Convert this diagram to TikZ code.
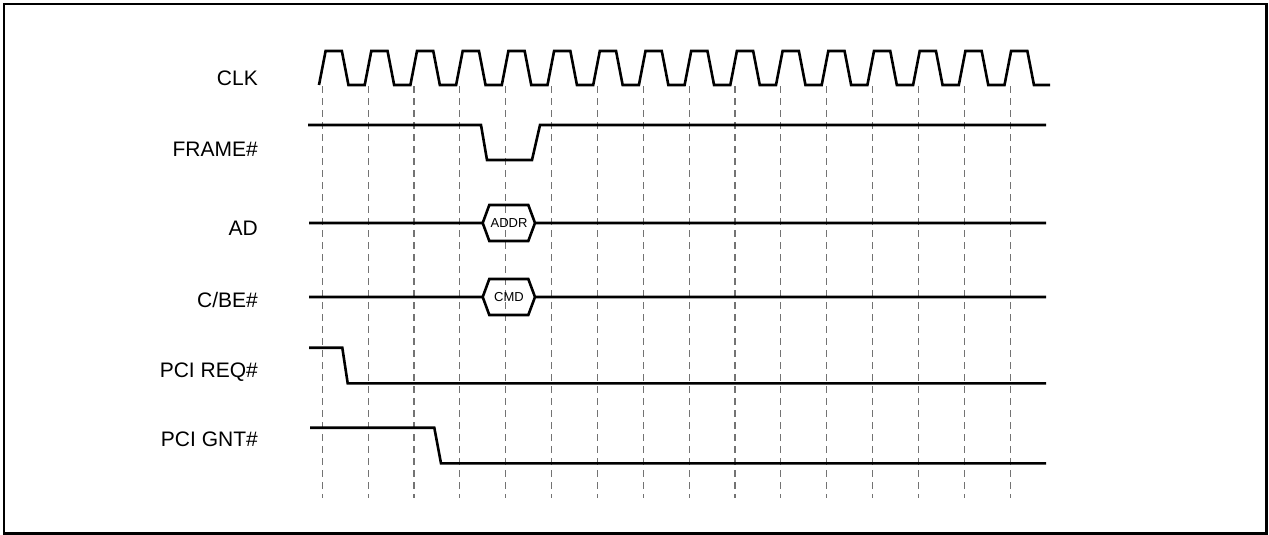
\documentclass[tikz,border=0pt]{standalone}
\usepackage{fontspec}
\setmainfont{Liberation Sans}
\begin{document}
\begin{tikzpicture}[x=1pt,y=-1pt,
  sig/.style={line width=2.6pt,line join=miter,line cap=butt},
  grid/.style={line width=1.1pt,draw=black!55,dash pattern=on 7pt off 5pt},
  lbl/.style={anchor=base east,inner sep=0pt,font=\fontsize{21}{21}\selectfont},
  bus/.style={font=\fontsize{13}{13}\selectfont,inner sep=0pt}]
\useasboundingbox (0,0) rectangle (1269,535);
\draw[line width=2.3pt] (4,4) rectangle (1266.5,533.5);
% grid lines
\foreach \i in {0,...,15}{
  \draw[grid] ({322.3+45.85*\i},86) -- ({322.3+45.85*\i},498);
}
% labels
\node[lbl] (lclk) at (258,85) {CLK};
\node[lbl] (lframe) at (258,156.5) {FRAME\#};
\node[lbl] (lad) at (258,235) {AD};
\node[lbl] (lcbe) at (258,307.5) {C/BE\#};
\node[lbl] (lreq) at (258,377) {PCI REQ\#};
\node[lbl] (lgnt) at (258,446.5) {PCI GNT\#};
% clock
\draw[sig] (319,85)
  \foreach \i in {0,...,15}{
    -- ({322.3+45.7*\i+3.3},51) -- ({322.3+45.7*\i+22.85-3.3},51)
    -- ({322.3+45.7*\i+22.85+3.3},85) -- ({322.3+45.7*\i+45.7-3.3},85)
  } -- (1050,85);
% FRAME#
\draw[sig] (308,125) -- (481,125) -- (487,160) -- (532,160) -- (540,125) -- (1046,125);
% AD
\draw[sig] (309,223) -- (482.7,223) -- (489.3,205) -- (528.3,205) -- (535,223) -- (1046,223)
  (482.7,223) -- (489.3,241) -- (528.3,241) -- (535,223);
\node[bus] (addr) at (509,223) {ADDR};
% C/BE#
\draw[sig] (309,297) -- (482.7,297) -- (489.3,279) -- (528.3,279) -- (535,297) -- (1046,297)
  (482.7,297) -- (489.3,315) -- (528.3,315) -- (535,297);
\node[bus] (cmd) at (509,297) {CMD};
% PCI REQ#
\draw[sig] (309,347.7) -- (342.3,347.7) -- (347.7,383.3) -- (1046,383.3);
% PCI GNT#
\draw[sig] (310,427.7) -- (434.3,427.7) -- (441,463.3) -- (1046,463.3);
\end{tikzpicture}
\end{document}
